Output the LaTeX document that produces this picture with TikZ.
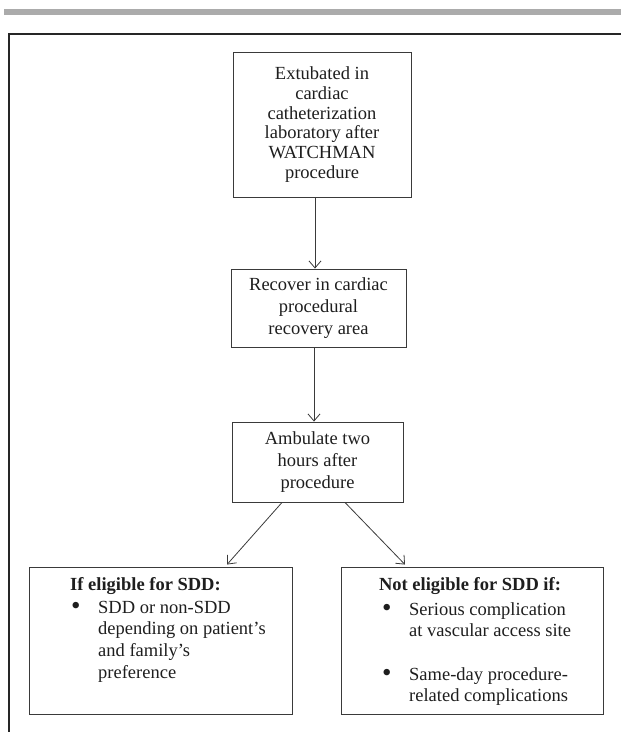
\documentclass[tikz,border=0pt]{standalone}
\usepackage{fontspec}
\setmainfont{Liberation Serif}
\usetikzlibrary{arrows.meta}
\definecolor{txt}{HTML}{1E1E1E}
\definecolor{boxline}{HTML}{3A3A3A}
\definecolor{bar}{HTML}{ABABAB}
\newcommand{\bigbul}{\raisebox{-1.5pt}{\fontsize{27}{21.7}\selectfont\textbullet}}
\tikzset{
  flowbox/.style={draw=boxline, line width=0.9pt, rectangle, inner sep=0pt, align=center, text=txt,
    font=\fontsize{18.5}{19.8}\selectfont},
  flowbox2/.style={flowbox, font=\fontsize{18.5}{21.8}\selectfont},
  emptybox/.style={draw=boxline, line width=0.9pt, rectangle, inner sep=0pt},
  plaintext/.style={inner sep=0pt, text=txt, font=\fontsize{18.5}{21.7}\selectfont},
  flowarrow/.style={draw=boxline, line width=0.8pt, -{Straight Barb[length=7pt,width=12pt]}},
}
\begin{document}
\begin{tikzpicture}[x=1pt,y=-1pt]
\useasboundingbox (0,0) rectangle (621,732);
% top grey bar and frame
\fill[bar] (4,9) rectangle (621,14.5);
\draw[black!85, line width=1.6pt] (9,732) -- (9,34) -- (621,34);

% boxes
\node[flowbox, minimum width=178pt, minimum height=145pt] (ext) at (322,124.5)
  {Extubated in\\cardiac\\catheterization\\laboratory after\\WATCHMAN\\procedure};
\node[flowbox2, minimum width=175pt, minimum height=78pt] (rec) at (318.5,308)
  {Recover in cardiac\\procedural\\recovery area};
\node[flowbox2, minimum width=171pt, minimum height=80pt] (amb) at (317.5,462)
  {Ambulate two\\hours after\\procedure};
\node[emptybox, minimum width=263pt, minimum height=147pt] (elig) at (160.5,640.5) {};
\node[emptybox, minimum width=262pt, minimum height=147pt] (nelig) at (472,640.5) {};

% contents of bottom boxes
\node[plaintext, anchor=base west] (eligt) at (70,590) {\textbf{If eligible for SDD:}};
\node[plaintext, anchor=north west] (eligl) at (71,597.8)
  {\def\arraystretch{1}\begin{tabular}{@{}p{27pt}@{}l@{}}
   \bigbul & SDD or non-SDD\\
   & depending on patient’s\\
   & and family’s\\
   & preference
  \end{tabular}};
\node[plaintext, anchor=base] (neligt) at (470,590) {\textbf{Not eligible for SDD if:}};
\node[plaintext, anchor=north west] (neligl) at (382,599.8)
  {\def\arraystretch{1}\begin{tabular}{@{}p{27pt}@{}l@{}}
   \bigbul & Serious complication\\
   & at vascular access site\\
   & \\
   \bigbul & Same-day procedure-\\
   & related complications
  \end{tabular}};

% connectors
\coordinate (c1) at (315,0);
\coordinate (c2) at (314,0);
\coordinate (la) at (282,0);
\coordinate (lb) at (227,0);
\coordinate (ra) at (345,0);
\coordinate (rb) at (405,0);
\draw[flowarrow] (ext.south -| c1) -- (rec.north -| c1);
\draw[flowarrow] (rec.south -| c2) -- (amb.north -| c2);
\draw[flowarrow] (amb.south -| la) -- ([yshift=2pt]elig.north -| lb);
\draw[flowarrow] (amb.south -| ra) -- ([yshift=2pt]nelig.north -| rb);
\end{tikzpicture}
\end{document}
